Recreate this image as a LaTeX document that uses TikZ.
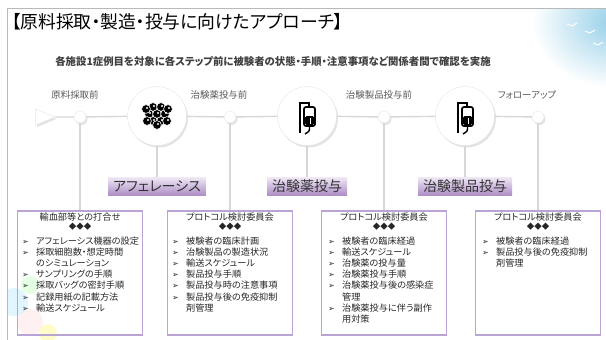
\documentclass[tikz,border=0pt]{standalone}
\usepackage{fontspec}
\setmainfont{Noto Sans CJK JP}[RawFeature=+palt]
\newfontfamily\hiro{Noto Sans CJK JP}[RawFeature=+palt, FakeStretch=1.02]
\newfontfamily\kigou{DejaVu Sans}
\usepackage{tikz}
\usetikzlibrary{positioning}
\usetikzlibrary{shapes.geometric}
\usetikzlibrary{shadows}
\definecolor{fuchi}{HTML}{B9A4D4}
\definecolor{fudaue}{HTML}{F1E9F6}
\definecolor{fudashita}{HTML}{AD8FC6}
\definecolor{senhai}{HTML}{D8D5DD}
\definecolor{mizu}{HTML}{95CFE8}
\tikzset{
  kage/.style={drop shadow={opacity=.22, shadow xshift=1.5pt, shadow yshift=-2pt}},
  maru/.style={circle, draw=gray!20, fill=white, minimum size=59pt, inner sep=0pt, kage},
  ten/.style={circle, draw=gray!20, fill=white, minimum size=12pt, inner sep=0pt, kage},
  sen/.style={draw=senhai, line width=1.4pt},
  mae/.style={text=black!65, font=\hiro\fontsize{9.3}{10}\selectfont},
  fuda/.style={top color=fudaue, bottom color=fudashita, minimum height=18pt, inner xsep=5pt, inner ysep=2pt, text=black!80, font=\fontsize{14}{14}\selectfont},
  waku/.style={draw=fuchi, line width=1.2pt, minimum width=125pt, minimum height=124pt},
  komidashi/.style={inner sep=1pt, text=black!85, font=\hiro\fontsize{9}{9.5}\selectfont},
  hishi/.style={inner sep=1pt, text=black!85, font=\fontsize{7.5}{8}\selectfont},
  koumoku/.style={inner sep=0pt, align=left, text=black!85, font=\hiro\fontsize{9}{11.2}\selectfont},
  % drip bag on its stand
  tenteki/.pic={
    \draw[line width=2.4pt] (-8,-14) -- (-8,17);
    \draw[line width=1.7pt] (-8,-13) -- (1,-13) -- (1,-9);
    \draw[line width=1.7pt, fill=white, rounded corners=2pt] (-4,-9) rectangle (7,10);
    \fill[rounded corners=1.5pt] (-3,0) rectangle (6,9);
    \fill[white] (1.5,1.5) rectangle (3,7.5);
    \draw[line width=1.4pt] (1.5,10) -- (1.5,13) .. controls (1.5,17) and (-2,16) .. (-3,18);
  },
  % clump of cells
  saibou/.pic={
    \foreach \cx/\cy in {-4/-8, 4/-8, -8/-1, 0/-1, 8/-1, -4/6, 4/6, 0/10, -10/6, 10/6, -11/-6, 11/-6}
      \filldraw[fill=black, draw=white, line width=.6pt] (\cx,\cy) circle (4.4);
    \foreach \cx/\cy in {-4/-8, 4/-8, -8/-1, 0/-1, 8/-1, -4/6, 4/6, 0/10, -10/6, 10/6, -11/-6, 11/-6}
      \fill[white] (\cx+1,\cy-1) circle (1.2);
  },
}
\newcommand\yaji{\makebox[14pt][l]{\kigou\fontsize{8}{8}\selectfont ➢}}
\newcommand\sage{\hspace*{14pt}}

\begin{document}
\begin{tikzpicture}[x=1pt, y=-1pt]
  \useasboundingbox (0,0) rectangle (606,340);
  % corner washes and slide frame
  \begin{scope}
    \clip (7,8) rectangle (606,340);
    \shade[inner color=mizu, outer color=white] (614,22) ellipse (82 and 66);
    \fill[pink!70, opacity=.3] (30,322) circle (13);
    \fill[yellow!70, opacity=.3] (48,333) circle (9);
    \fill[cyan!40, opacity=.3] (14,302) circle (14);
    \fill[green!40, opacity=.25] (30,285) circle (9);
  \end{scope}
  \draw[gray!55, line width=.8pt] (7,340) -- (7,8) -- (606,8);
  \foreach \bx/\by in {572/26, 590/33, 598/45}
    \draw[white, line width=1pt] (\bx-5,\by-2) -- (\bx,\by) -- (\bx+5,\by-3);

  \node[anchor=west, font=\fontsize{17.8}{18}\selectfont] (midashi) at (8,22) {【原料採取・製造・投与に向けたアプローチ】};
  \node[text=black!75, font=\bfseries\fontsize{10.4}{11}\selectfont] (gaiyou) at (273,62) {各施設1症例目を対象に各ステップ前に被験者の状態・手順・注意事項など関係者間で確認を実施};

  % timeline
  \node[isosceles triangle, isosceles triangle stretches, minimum width=16pt, minimum height=19pt, inner sep=0pt, draw=gray!20, fill=white, kage] (ya) at (41,117) {};
  \node[ten] (t1) at (80,117) {};
  \node[maru] (m1) at (157,116) {};
  \node[ten] (t2) at (230,117) {};
  \node[maru] (m2) at (307,116) {};
  \node[ten] (t3) at (384,117) {};
  \node[maru] (m3) at (465,116) {};
  \node[ten] (t4) at (538,117) {};
  \draw[sen] (ya) -- (t1) -- (m1) -- (t2) -- (m2) -- (t3) -- (m3) -- (t4);
  \pic at (157,115) {saibou};
  \pic at (308,116) {tenteki};
  \pic at (466,116) {tenteki};

  \node[mae, above=8pt of t1, xshift=-5pt] (l1) {原料採取前};
  \node[mae, above=8pt of t2, xshift=-11pt] (l2) {治験薬投与前};
  \node[mae, above=8pt of t3, xshift=-5pt] (l3) {治験製品投与前};
  \node[mae, above=8pt of t4, xshift=-11pt] (l4) {フォローアップ};

  \node[fuda] (f1) at (157,186) {アフェレーシス};
  \node[fuda] (f2) at (307,186) {治験薬投与};
  \node[fuda] (f3) at (465,186) {治験製品投与};
  \draw[sen] (m1) -- (f1);
  \draw[sen] (m2) -- (f2);
  \draw[sen] (m3) -- (f3);

  % meeting boxes
  \node[waku] (w1) at (80,273) {};
  \node[waku] (w2) at (230,273) {};
  \node[waku] (w3) at (384,273) {};
  \node[waku] (w4) at (538,273) {};
  \draw[sen] (t1) -- (w1);
  \draw[sen] (t2) -- (w2);
  \draw[sen] (t3) -- (w3);
  \draw[sen] (t4) -- (w4);

  \node[komidashi, below=1pt of w1.north] (k1) {輸血部等との打合せ};
  \node[komidashi, below=1pt of w2.north] (k2) {プロトコル検討委員会};
  \node[komidashi, below=1pt of w3.north] (k3) {プロトコル検討委員会};
  \node[komidashi, below=1pt of w4.north] (k4) {プロトコル検討委員会};
  \node[hishi, below=0pt of k1] (h1) {◆◆◆};
  \node[hishi, below=0pt of k2] (h2) {◆◆◆};
  \node[hishi, below=0pt of k3] (h3) {◆◆◆};
  \node[hishi, below=0pt of k4] (h4) {◆◆◆};

  \node[koumoku, below right=26pt and 5pt of w1.north west] (i1) {\yaji アフェレーシス機器の設定\\ \yaji 採取細胞数・想定時間\\ \sage のシミュレーション\\ \yaji サンプリングの手順\\ \yaji 採取バッグの密封手順\\ \yaji 記録用紙の記載方法\\ \yaji 輸送スケジュール};
  \node[koumoku, below right=26pt and 5pt of w2.north west] (i2) {\yaji 被験者の臨床計画\\ \yaji 治験製品の製造状況\\ \yaji 輸送スケジュール\\ \yaji 製品投与手順\\ \yaji 製品投与時の注意事項\\ \yaji 製品投与後の免疫抑制\\ \sage 剤管理};
  \node[koumoku, below right=26pt and 7pt of w3.north west] (i3) {\yaji 被験者の臨床経過\\ \yaji 輸送スケジュール\\ \yaji 治験薬の投与量\\ \yaji 治験薬投与手順\\ \yaji 治験薬投与後の感染症\\ \sage 管理\\ \yaji 治験薬投与に伴う副作\\ \sage 用対策};
  \node[koumoku, below right=26pt and 7pt of w4.north west] (i4) {\yaji 被験者の臨床経過\\ \yaji 製品投与後の免疫抑制\\ \sage 剤管理};
\end{tikzpicture}
\end{document}
